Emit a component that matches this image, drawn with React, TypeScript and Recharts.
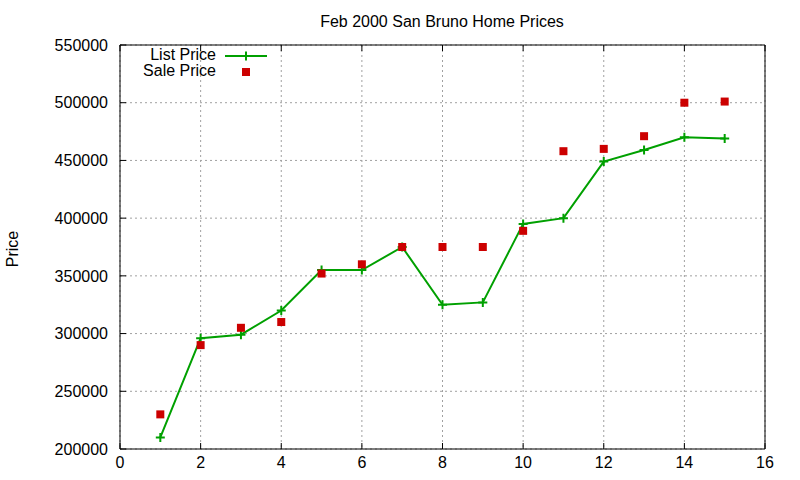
import { ComposedChart, Line, XAxis, YAxis, CartesianGrid } from 'recharts'

// house number on the x axis, prices
const houses = [1, 2, 3, 4, 5, 6, 7, 8, 9, 10, 11, 12, 13, 14, 15]
const listPrice = [
  210000, 296000, 299000, 320000, 355000, 355000, 375000, 325000, 327000, 395000, 400000, 449000,
  459000, 470000, 469000,
]
const salePrice = [
  230000, 290000, 305000, 310000, 352000, 360000, 375000, 375000, 375000, 389000, 458000, 460000,
  471000, 500000, 501000,
]
const xTicks = [0, 2, 4, 6, 8, 10, 12, 14, 16]
const yTicks = [200000, 250000, 300000, 350000, 400000, 450000, 500000, 550000]

const data = houses.map((h, i) => ({ house: h, list: listPrice[i], sale: salePrice[i] }))

const GREEN = '#00a000'
const RED = '#cc0000'
const FONT = '"Liberation Sans", Arial, sans-serif'

const PlusDot = (props: any) => {
  const { cx, cy } = props
  if (cx == null || cy == null) return null
  return (
    <path
      d={`M${cx - 4.5},${cy}h9M${cx},${cy - 4.5}v9`}
      stroke={GREEN}
      strokeWidth={2}
      fill="none"
    />
  )
}

const SquareDot = (props: any) => {
  const { cx, cy } = props
  if (cx == null || cy == null) return null
  return <rect x={cx - 4} y={cy - 4} width={8} height={8} fill={RED} />
}

const noLabel = () => <g />

export default function App() {
  const tickStyle = { fontSize: 16, fill: '#000', fontFamily: FONT }
  return (
    <div style={{ position: 'absolute', left: 0, top: 0, width: 800, height: 480, background: '#fff' }}>
      <ComposedChart
        width={800}
        height={480}
        data={data}
        margin={{ top: 44, right: 34, bottom: 0, left: 0 }}
      >
        <CartesianGrid stroke="#a0a0a0" strokeDasharray="2 3" strokeWidth={1} />
        <XAxis
          dataKey="house"
          type="number"
          domain={[0, 16]}
          ticks={xTicks}
          height={31}
          tick={tickStyle}
          tickSize={-6}
          tickMargin={14}
          axisLine={{ stroke: '#000' }}
          tickLine={{ stroke: '#000' }}
        />
        <XAxis
          xAxisId="top"
          orientation="top"
          dataKey="house"
          type="number"
          domain={[0, 16]}
          ticks={xTicks}
          height={1}
          tick={noLabel}
          tickSize={-6}
          axisLine={{ stroke: '#000' }}
          tickLine={{ stroke: '#000' }}
        />
        <YAxis
          type="number"
          domain={[200000, 550000]}
          ticks={yTicks}
          width={120}
          tick={tickStyle}
          tickSize={-6}
          tickMargin={18}
          axisLine={{ stroke: '#000' }}
          tickLine={{ stroke: '#000' }}
        />
        <YAxis
          yAxisId="right"
          orientation="right"
          type="number"
          domain={[200000, 550000]}
          ticks={yTicks}
          width={1}
          tick={noLabel}
          tickSize={-6}
          axisLine={{ stroke: '#000' }}
          tickLine={{ stroke: '#000' }}
        />
        <Line
          dataKey="list"
          stroke={GREEN}
          strokeWidth={2}
          dot={<PlusDot />}
          activeDot={false}
          isAnimationActive={false}
        />
        <Line
          dataKey="sale"
          stroke="none"
          dot={<SquareDot />}
          activeDot={false}
          isAnimationActive={false}
        />
      </ComposedChart>
      <svg
        width={800}
        height={480}
        style={{ position: 'absolute', left: 0, top: 0, pointerEvents: 'none' }}
        fontFamily={FONT}
        fontSize={16}
      >
        <text x={442} y={27} textAnchor="middle" fill="#000">
          Feb 2000 San Bruno Home Prices
        </text>
        <text x={18} y={249} textAnchor="middle" fill="#000" transform="rotate(-90 18 249)">
          Price
        </text>
        <text x={216} y={60} textAnchor="end" fill="#000">
          List Price
        </text>
        <line x1={225} y1={56} x2={267} y2={56} stroke={GREEN} strokeWidth={2} />
        <path d="M241.5,56h9M246,51.5v9" stroke={GREEN} strokeWidth={2} />
        <text x={216} y={76} textAnchor="end" fill="#000">
          Sale Price
        </text>
        <rect x={242} y={68} width={8} height={8} fill={RED} />
      </svg>
    </div>
  )
}
